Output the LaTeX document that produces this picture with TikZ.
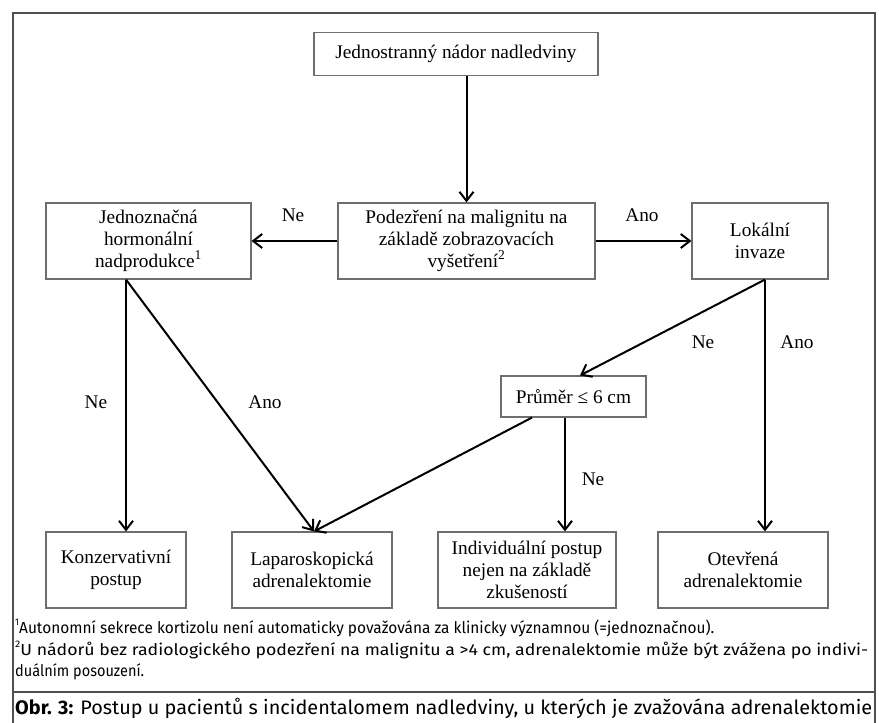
\documentclass[tikz,border=0pt]{standalone}
\usepackage{fontspec}
\usepackage{graphicx}
\setmainfont{Liberation Serif}
\newfontfamily\notefont{Fira Sans}
\usetikzlibrary{arrows.meta}
\definecolor{framegray}{HTML}{505050}
\definecolor{boxgray}{HTML}{6E6E6E}
\tikzset{
  flowbox/.style={draw=boxgray, line width=1.1pt, align=center, inner sep=0pt,
    font=\fontsize{19.3}{21.8}\selectfont},
  arr/.style={line width=2pt, -{Straight Barb[length=9pt,width=14pt]}},
  lbl/.style={font=\fontsize{19.3}{21.8}\selectfont, inner sep=0pt},
  note/.style={anchor=west, inner sep=0pt, font=\notefont\fontsize{16}{18}\selectfont},
  capt/.style={anchor=west, inner sep=0pt, font=\notefont\fontsize{19.5}{22}\selectfont},
}
\newcommand{\fnmark}[1]{\raisebox{0.45em}{\fontsize{9.5}{10}\selectfont #1}}
\begin{document}
\begin{tikzpicture}[x=1pt,y=-1pt]
\useasboundingbox (0,0) rectangle (879,723);
\fill[white] (0,0) rectangle (879,723);

% outer frame and caption separator
\draw[framegray, line width=2pt] (13,723) -- (13,13) -- (875,13) -- (875,723);
\draw[framegray, line width=2pt] (13,692) -- (875,692);

% decision boxes
\node[flowbox, minimum width=284pt, minimum height=43pt] (top) at (456,54)
  {Jednostranný nádor nadledviny};
\node[flowbox, minimum width=257pt, minimum height=76pt] (mid) at (466.5,241)
  {Podezření na malignitu na\\základě zobrazovacích\\vyšetření\textsuperscript{2}};
\node[flowbox, minimum width=205pt, minimum height=76pt] (left) at (148.5,241)
  {Jednoznačná\\hormonální\\nadprodukce\textsuperscript{1}};
\node[flowbox, minimum width=136pt, minimum height=76pt] (lok) at (760,241)
  {Lokální\\invaze};
\node[flowbox, minimum width=145pt, minimum height=41pt] (pru) at (573.5,396.5)
  {Průměr ≤ 6 cm};

% outcome boxes
\node[flowbox, minimum width=140pt, minimum height=76pt] (kon) at (116,570)
  {Konzervativní\\postup};
\node[flowbox, minimum width=160pt, minimum height=76pt] (lap) at (312,570)
  {Laparoskopická\\adrenalektomie};
\node[flowbox, minimum width=178pt, minimum height=76pt] (ind) at (527,570)
  {Individuální postup\\nejen na základě\\zkušeností};
\node[flowbox, minimum width=170pt, minimum height=76pt] (ote) at (743,570)
  {Otevřená\\adrenalektomie};

% connectors
\coordinate (lfoot) at ([xshift=-22.5pt]left.south);
\coordinate (rfoot) at ([xshift=5pt]lok.south);
\coordinate (pfootA) at ([xshift=-41.5pt]pru.south);
\coordinate (pfootB) at ([xshift=-8.5pt]pru.south);
\draw[arr] (mid.north |- top.south) -- (mid.north);
\draw[arr] (mid.west) -- (mid.west -| left.east);
\draw[arr] (mid.east) -- (mid.east -| lok.west);
\draw[arr] (lfoot) -- (lfoot |- kon.north);
\draw[arr] (lfoot) -- ([xshift=2pt]lap.north);
\draw[arr] (rfoot) -- (rfoot |- ote.north);
\draw[arr] (rfoot) -- ([xshift=6.5pt]pru.north);
\draw[arr] (pfootA) -- ([xshift=2pt]lap.north);
\draw[arr] (pfootB) -- (pfootB |- ind.north);

% connector labels
\node[lbl] (l1) at (293,215) {Ne};
\node[lbl] (l2) at (642,215) {Ano};
\node[lbl] (l3) at (96,402) {Ne};
\node[lbl] (l4) at (265,402) {Ano};
\node[lbl] (l5) at (703,342) {Ne};
\node[lbl] (l6) at (797,342) {Ano};
\node[lbl] (l7) at (593,479) {Ne};

% footnotes
\node[note] (fn1) at (15,628) {\resizebox{699pt}{\height}{\fnmark{1}Autonomní sekrece kortizolu není automaticky považována za klinicky významnou (=jednoznačnou).}};
\node[note] (fn2) at (15,650) {\resizebox{853pt}{\height}{\fnmark{2}U nádorů bez radiologického podezření na malignitu a >4 cm, adrenalektomie může být zvážena po indivi-}};
\node[note] (fn3) at (15,672) {\resizebox{129pt}{\height}{duálním posouzení.}};

% caption
\node[capt] (cap) at (15,708) {\resizebox{857pt}{\height}{\textbf{Obr. 3:} Postup u pacientů s incidentalomem nadledviny, u kterých je zvažována adrenalektomie}};
\end{tikzpicture}
\end{document}
